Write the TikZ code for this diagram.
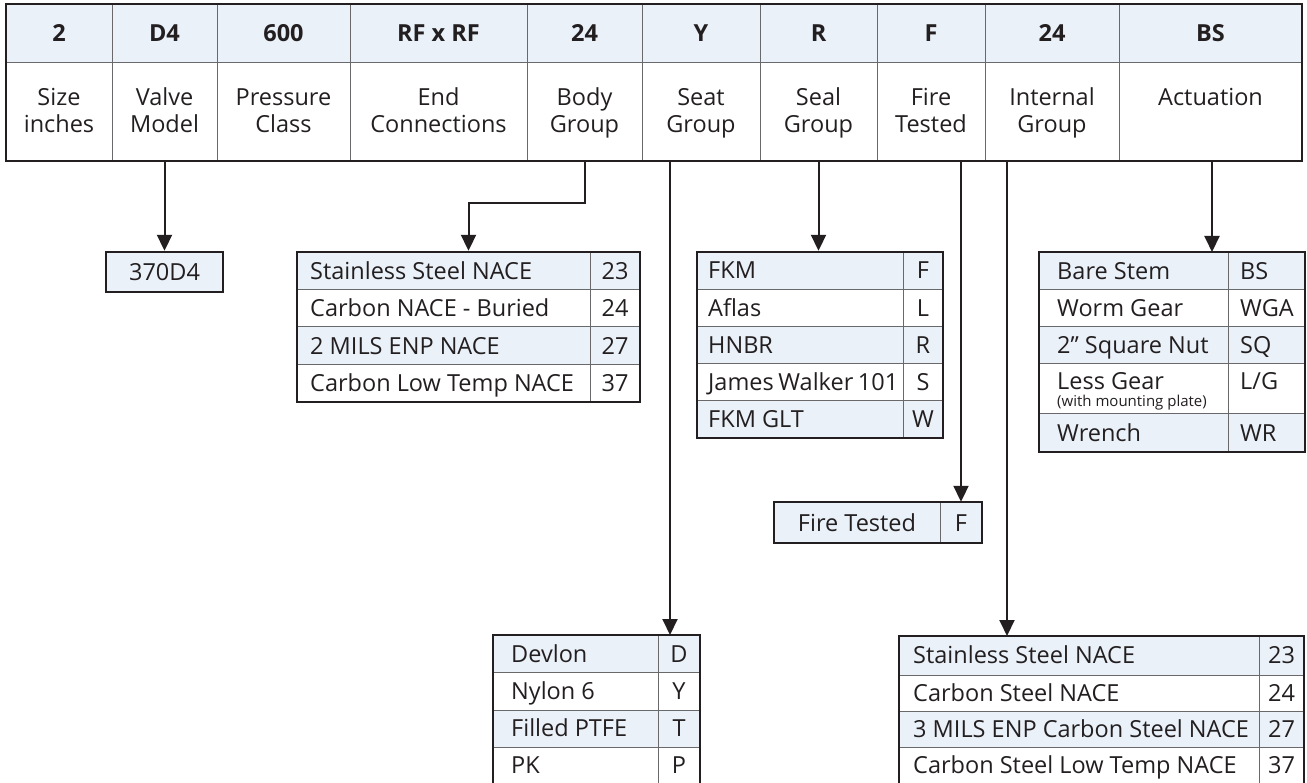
\documentclass[tikz,border=0pt]{standalone}
\usepackage{fontspec}
\setmainfont{Open Sans}
\usetikzlibrary{arrows.meta,fit}
\definecolor{lb}{RGB}{234,241,249}
\definecolor{ink}{RGB}{35,31,32}
\definecolor{sepc}{RGB}{105,105,108}
\tikzset{
 txt/.style={inner sep=0pt, text=ink, font=\fontsize{23.5}{27}\selectfont},
 btxt/.style={inner sep=0pt, text=ink, font=\fontsize{23.5}{27}\selectfont\bfseries},
 stxt/.style={inner sep=0pt, text=ink, font=\fontsize{15}{17}\selectfont},
 sepline/.style={draw=sepc, line width=1pt},
 tframe/.style={draw=ink, line width=2.4pt, inner sep=0pt},
 conn/.style={draw=ink, line width=2pt, -{Triangle[length=16pt,width=15pt]}},
}
% top-table column: name, x1, x2, code, line 1, line 2
\newcommand{\topcol}[6]{%
 \node[btxt, anchor=base] (#1h) at ({(#2+#3)/2},42) {#4};
 \node[txt, anchor=base] (#1a) at ({(#2+#3)/2},106) {#5};
 \node[txt, anchor=base] (#1b) at ({(#2+#3)/2},133) {#6};
 \node[fit={(#2,63) (#3,161)}, inner sep=0pt] (#1) {};
}
% sub-table row: name, xl, xsep, xr, ytop, ybot, fill, left text, right text (centred)
\newcommand{\srow}[9]{%
 \fill[#7] (#2,#5) rectangle (#4,#6);
 \draw[sepline] (#2,#5) -- (#4,#5);
 \draw[sepline] (#3,#5) -- (#3,#6);
 \node[txt, anchor=base west] (#1l) at ({#2+\padL},{(#5+#6)/2+8.4}) {#8};
 \node[txt, anchor=base] (#1r) at ({(#3+#4)/2},{(#5+#6)/2+8.4}) {#9};
}
% same, right column left-aligned
\newcommand{\srowL}[9]{%
 \fill[#7] (#2,#5) rectangle (#4,#6);
 \draw[sepline] (#2,#5) -- (#4,#5);
 \draw[sepline] (#3,#5) -- (#3,#6);
 \node[txt, anchor=base west] (#1l) at ({#2+\padL},{(#5+#6)/2+8.4}) {#8};
 \node[txt, anchor=base west] (#1r) at ({#3+12},{(#5+#6)/2+8.4}) {#9};
}
\begin{document}
\begin{tikzpicture}[x=1pt,y=-1pt]
\useasboundingbox (0,0) rectangle (1307,783);

% ---------- top table ----------
\fill[lb] (6,4) rectangle (1302,63);
\draw[sepline] (6,63) -- (1302,63);
\foreach \xx in {112,217,350,527,642,760,877,985,1119}
  \draw[sepline] (\xx,4) -- (\xx,161);
\topcol{cSize}{6}{112}{2}{Size}{inches}
\topcol{cValve}{112}{217}{D4}{Valve}{Model}
\topcol{cPress}{217}{350}{600}{Pressure}{Class}
\topcol{cEnd}{350}{527}{RF x RF}{End}{Connections}
\topcol{cBody}{527}{642}{24}{Body}{Group}
\topcol{cSeat}{642}{760}{Y}{Seat}{Group}
\topcol{cSeal}{760}{877}{R}{Seal}{Group}
\topcol{cFire}{877}{985}{F}{Fire}{Tested}
\topcol{cInt}{985}{1119}{24}{Internal}{Group}
\topcol{cAct}{1119}{1302}{BS}{Actuation}{}
\node[tframe, fit={(6,4) (1302,161)}] (topT) {};

% ---------- valve model ----------
\fill[lb] (106,252) rectangle (223,292);
\node[txt] (t370txt) at (164.5,272) {370D4};
\node[tframe, fit={(106,252) (223,292)}] (t370) {};

% ---------- body group ----------
\def\padL{13}
\srow{bA}{297}{590}{640}{252}{289.5}{lb}{Stainless Steel NACE}{23}
\srow{bB}{297}{590}{640}{289.5}{327}{white}{Carbon NACE - Buried}{24}
\srow{bC}{297}{590}{640}{327}{364.5}{lb}{2 MILS ENP NACE}{27}
\srow{bD}{297}{590}{640}{364.5}{402}{white}{Carbon Low Temp NACE}{37}
\node[tframe, fit={(297,252) (640,402)}] (bodyT) {};

% ---------- seal group ----------
\def\padL{11}
\srow{sA}{697}{903}{943}{252}{289.2}{lb}{FKM}{F}
\srow{sB}{697}{903}{943}{289.2}{326.4}{white}{Aflas}{L}
\srow{sC}{697}{903}{943}{326.4}{363.6}{lb}{HNBR}{R}
\srow{sD}{697}{903}{943}{363.6}{400.8}{white}{James\hspace{-1.5pt} Walker\hspace{-1.5pt} 101}{S}
\srow{sE}{697}{903}{943}{400.8}{438}{lb}{FKM GLT}{W}
\node[tframe, fit={(697,252) (943,438)}] (sealT) {};

% ---------- actuation ----------
\def\padL{18}
\srowL{aA}{1039}{1228}{1305}{252}{290}{lb}{Bare Stem}{BS}
\srowL{aB}{1039}{1228}{1305}{290}{327}{white}{Worm Gear}{WGA}
\srowL{aC}{1039}{1228}{1305}{327}{364}{lb}{2” Square Nut}{SQ}
\fill[white] (1039,364) rectangle (1305,414);
\draw[sepline] (1039,364) -- (1305,364);
\draw[sepline] (1228,364) -- (1228,414);
\node[txt, anchor=base west] (aDl) at (1057,389.5) {Less Gear};
\node[stxt, anchor=base west] (aDs) at (1057,406.5) {(with mounting plate)};
\node[txt, anchor=base west] (aDr) at (1240,389.5) {L/G};
\srowL{aE}{1039}{1228}{1305}{414}{452}{lb}{Wrench}{WR}
\node[tframe, fit={(1039,252) (1305,452)}] (actT) {};

% ---------- fire tested ----------
\fill[lb] (774,502) rectangle (982,543);
\draw[sepline] (940,502) -- (940,543);
\node[txt, anchor=base] (fireTxt) at (857,531) {Fire Tested};
\node[fit={(940,502) (982,543)}, inner sep=0pt] (fireF) {};
\node[txt, anchor=base] (fireFtxt) at (961,531) {F};
\node[tframe, fit={(774,502) (982,543)}] (fireT) {};

% ---------- seat group ----------
\def\padL{18}
\srow{dA}{493}{658}{700}{635}{672.5}{lb}{Devlon}{D}
\srow{dB}{493}{658}{700}{672.5}{710}{white}{Nylon 6}{Y}
\srow{dC}{493}{658}{700}{710}{747}{lb}{Filled PTFE}{T}
\srow{dD}{493}{658}{700}{747}{783}{white}{PK}{P}
\node[tframe, fit={(493,635) (700,785)}] (seatT) {};

% ---------- internal group ----------
\def\padL{14}
\srow{iA}{899}{1259}{1304}{636}{675}{lb}{Stainless Steel NACE}{23}
\srow{iB}{899}{1259}{1304}{675}{711}{white}{Carbon Steel NACE}{24}
\srow{iC}{899}{1259}{1304}{711}{747}{lb}{3 MILS ENP Carbon Steel NACE}{27}
\srow{iD}{899}{1259}{1304}{747}{783}{white}{Carbon Steel Low Temp NACE}{37}
\node[tframe, fit={(899,636) (1304,785)}] (intT) {};

% ---------- connectors ----------
\coordinate (bodyKnee) at (527,203);
\coordinate (seatIn) at (670,635);
\coordinate (intIn) at (1007,636);
\coordinate (actIn) at (1212,252);
\draw[conn] (cValve.south) -- (t370.north);
\draw[conn] (cBody.south) -- (cBody.south |- bodyKnee) -- (bodyT.north |- bodyKnee) -- (bodyT.north);
\draw[conn] (cSeat.south -| seatIn) -- (seatIn);
\draw[conn] (cSeal.south) -- (cSeal.south |- sealT.north);
\draw[conn] (cFire.south -| fireF.north) -- (fireF.north);
\draw[conn] (cInt.south -| intIn) -- (intIn);
\draw[conn] (cAct.south -| actIn) -- (actIn);
\end{tikzpicture}
\end{document}
